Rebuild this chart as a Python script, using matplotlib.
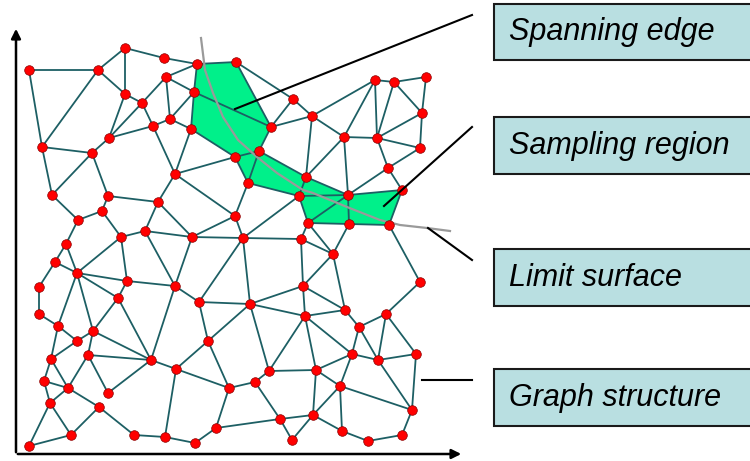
import matplotlib
matplotlib.use("Agg")
import matplotlib.pyplot as plt
from matplotlib.collections import LineCollection
from matplotlib.patches import Polygon, Rectangle

# node positions (pixel coords of the original picture), ids start at 1
node_x = [29, 98, 125, 164, 197, 166, 194, 125, 142, 170,
          153, 191, 109, 42, 92, 236, 293, 312, 271, 259,
          235, 344, 375, 394, 426, 422, 377, 420, 388, 306,
          248, 299, 348, 402, 308, 349, 389, 235, 243, 301,
          333, 420, 303, 52, 108, 175, 158, 102, 78, 145,
          121, 192, 66, 55, 77, 39, 127, 175, 118, 199,
          39, 58, 93, 77, 88, 51, 151, 176, 208, 44,
          68, 108, 50, 99, 229, 71, 29, 134, 165, 195,
          216, 250, 305, 345, 359, 386, 352, 378, 416, 269,
          316, 255, 340, 412, 280, 313, 292, 342, 368, 402]
node_y = [70, 70, 48, 58, 64, 77, 92, 94, 103, 119,
          126, 129, 138, 147, 153, 62, 99, 116, 127, 151,
          157, 137, 80, 82, 77, 113, 138, 148, 168, 177,
          183, 196, 195, 190, 223, 224, 225, 216, 238, 239,
          254, 282, 286, 195, 196, 174, 202, 211, 220, 231,
          237, 237, 244, 262, 273, 287, 281, 286, 298, 302,
          314, 326, 331, 341, 355, 359, 360, 369, 341, 381,
          388, 393, 403, 407, 388, 435, 446, 435, 437, 443,
          428, 304, 316, 310, 327, 314, 354, 360, 354, 371,
          370, 382, 386, 410, 419, 415, 440, 431, 441, 435]

edges = [(1,2),(1,14),(2,3),(2,14),(2,8),(3,8),(3,4),(4,5),(6,5),(6,7),(6,10),(6,9),
         (8,9),(8,13),(9,11),(9,13),(13,11),(11,10),(10,12),(10,7),(7,5),(7,12),(7,19),
         (12,21),(12,46),(11,46),(14,15),(15,13),(14,44),(15,44),(15,45),
         (5,16),(16,17),(16,19),(17,19),(17,18),(19,18),(19,20),(20,21),(20,31),(21,31),
         (21,46),(20,30),(18,22),(18,23),(18,30),(22,23),(22,27),(22,30),(22,33),(23,24),
         (23,27),(24,25),(24,27),(24,26),(25,26),(26,27),(26,28),(27,28),(27,29),(28,29),
         (29,33),(29,34),(30,32),(30,33),(31,32),(31,38),(32,33),(32,35),(35,33),(33,34),
         (33,36),(34,37),(35,36),(36,37),(32,39),(35,40),(35,41),(36,41),(37,42),(38,39),
         (38,46),(38,52),(39,52),(39,40),(39,60),(39,82),(40,41),(40,43),(41,43),(41,84),
         (43,82),(43,83),(43,84),(42,86),
         (44,49),(49,48),(48,45),(45,47),(47,46),(48,51),(51,50),(50,47),(47,52),(50,52),
         (52,58),(50,58),(58,60),(49,53),(53,54),(53,55),(54,55),(54,56),(56,61),(55,51),
         (55,57),(51,57),(57,58),(57,59),(55,59),(55,62),(55,63),
         (61,62),(62,64),(62,66),(63,64),(63,65),(63,67),(59,63),(59,67),(65,67),(64,66),
         (66,70),(66,71),(65,71),(65,72),(70,71),(71,73),(71,74),(73,70),(73,77),(73,76),
         (77,76),(76,74),(74,78),(72,67),(78,79),(79,80),(80,81),(79,68),(67,68),(67,58),
         (68,69),(68,75),(69,60),(69,75),(69,82),(75,81),
         (82,60),(82,83),(82,90),(83,84),(83,90),(83,91),(83,87),(84,85),(85,86),(85,87),
         (85,88),(86,88),(86,89),(87,88),(88,89),(88,94),(89,94),(87,93),(87,91),(90,91),
         (90,92),(92,75),(92,95),(95,96),(95,97),(97,96),(96,91),(96,93),(96,98),(91,93),
         (93,98),(93,94),(98,99),(99,100),(100,94),(81,95)]

# sampling region outline
region_x = [197, 236, 271, 259, 305, 348, 402, 389, 308, 299, 248, 235, 191, 194]
region_y = [64, 62, 127, 151, 177, 195, 190, 225, 223, 196, 183, 157, 129, 92]

# limit surface curve
limit_x = [201, 205, 213, 223, 238, 257, 277, 303, 313, 347, 380, 400, 427, 450]
limit_y = [38, 70, 93, 117, 140, 157, 173, 190, 193, 207, 220, 225, 228, 231]

labels = ["Spanning edge", "Sampling region", "Limit surface", "Graph structure"]
box_top = [4, 117, 249, 369]
box_bottom = [60, 174, 306, 426]
# callout lines: start point in the graph, end point near the box
call_x0 = [235, 384, 428, 422]
call_y0 = [109, 206, 228, 380]
call_x1 = [472, 472, 472, 472]
call_y1 = [15, 127, 260, 380]

fig = plt.figure(figsize=(7.5, 4.61), dpi=100)
ax = fig.add_axes([0, 0, 1, 1])
ax.set_xlim(0, 750)
ax.set_ylim(461, 0)
ax.axis("off")

ax.add_patch(Polygon(list(zip(region_x, region_y)), closed=True,
                     facecolor="#00f08a", edgecolor="none", zorder=1))

segs = [[(node_x[a-1], node_y[a-1]), (node_x[b-1], node_y[b-1])] for a, b in edges]
ax.add_collection(LineCollection(segs, colors="#1d5f64", linewidths=1.3, zorder=2))

ax.plot(limit_x, limit_y, color="#9a9a9a", lw=1.6, zorder=3)

ax.scatter(node_x, node_y, s=48, color="#ff0000", edgecolors="#8a0000",
           linewidths=0.5, zorder=4)

# axes arrows
ax.annotate("", xy=(16, 26), xytext=(16, 455),
            arrowprops=dict(arrowstyle="-|>", lw=1.8, color="black", mutation_scale=14))
ax.annotate("", xy=(464, 454), xytext=(15, 454),
            arrowprops=dict(arrowstyle="-|>", lw=1.8, color="black", mutation_scale=14))

for i in range(len(labels)):
    ax.plot([call_x0[i], call_x1[i]], [call_y0[i], call_y1[i]], color="black", lw=1.5, zorder=5)
    ax.add_patch(Rectangle((494, box_top[i]), 270, box_bottom[i] - box_top[i],
                           facecolor="#b9dfe1", edgecolor="#1a1a1a", lw=1.5, zorder=5))
    ax.text(509, (box_top[i] + box_bottom[i]) / 2, labels[i], fontsize=22,
            family="Liberation Sans", style="italic", va="center", ha="left", zorder=6)

fig.savefig("out.png", dpi=100)
